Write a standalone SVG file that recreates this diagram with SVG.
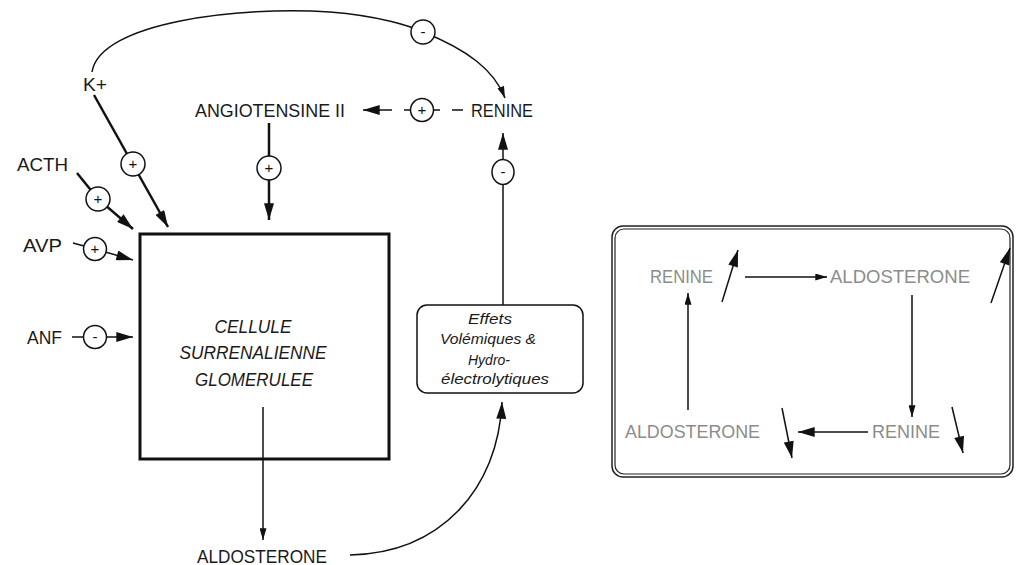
<svg xmlns="http://www.w3.org/2000/svg" width="1017" height="565" viewBox="0 0 1017 565">
<style>
.lbl{font-family:"Liberation Sans",Arial,sans-serif;font-size:19px;fill:#1a1a1a}
.it{font-family:"Liberation Sans",Arial,sans-serif;font-style:italic;font-size:18px;fill:#1a1a1a;text-anchor:middle}
.sm{font-family:"Liberation Sans",Arial,sans-serif;font-style:italic;font-size:15px;fill:#1a1a1a;text-anchor:middle}
.gr{font-family:"Liberation Sans",Arial,sans-serif;font-size:18px;fill:#8c8c8c}
.ln{fill:none;stroke:#111;stroke-width:1.5}
.thk{fill:none;stroke:#111;stroke-width:2.5}
.sg{fill:#fff;stroke:#111;stroke-width:1.5}
.st{font-family:"Liberation Sans",Arial,sans-serif;font-size:15px;fill:#111;text-anchor:middle}
</style>
<defs>
<marker id="ah" viewBox="0 0 10 6" refX="10" refY="3" markerWidth="12" markerHeight="7" markerUnits="userSpaceOnUse" orient="auto"><path d="M0,0 L10,3 L0,6 z" fill="#111"/></marker>
<marker id="ahL" viewBox="0 0 10 6" refX="10" refY="3" markerWidth="18" markerHeight="10" markerUnits="userSpaceOnUse" orient="auto"><path d="M0,0 L10,3 L0,6 z" fill="#111"/></marker>
</defs>
<rect width="1017" height="565" fill="#fff"/>

<g id="connectors">
<path class="ln" d="M92,72 C100,22 240,6 330,12 C380,16 410,26 423,32 C468,50 494,70 505,98" marker-end="url(#ah)"/>
<path class="thk" d="M94,95 L168,227" marker-end="url(#ahL)"/>
<path class="thk" d="M77,173 L98,199 L133,229" marker-end="url(#ahL)"/>
<path class="ln" d="M73,243 L95,249 L133,260" marker-end="url(#ahL)"/>
<path class="ln" d="M72,337 L133,337" marker-end="url(#ahL)"/>
<path class="thk" d="M269,123 L269,220" marker-end="url(#ahL)"/>
<path class="ln" d="M392,110 L363,110" marker-end="url(#ahL)"/>
<path class="ln" d="M404,110 L440,110 M452,110 L463,110"/>
<path class="ln" d="M503,305 L503,133" marker-end="url(#ahL)"/>
<path class="ln" d="M263,407 L263,540" marker-end="url(#ah)"/>
<path class="ln" d="M350,555 C440,553 498,490 502,402" marker-end="url(#ahL)"/>
<g id="signs">
<circle class="sg" cx="423" cy="32" r="12"/><text class="st" x="423" y="37">-</text>
<circle class="sg" cx="133" cy="164" r="12"/><text class="st" x="133" y="169">+</text>
<circle class="sg" cx="98" cy="199" r="12"/><text class="st" x="98" y="204">+</text>
<circle class="sg" cx="95" cy="249" r="11.5"/><text class="st" x="95" y="254">+</text>
<circle class="sg" cx="95" cy="337" r="11.5"/><text class="st" x="95" y="342">-</text>
<circle class="sg" cx="269" cy="168" r="12"/><text class="st" x="269" y="173">+</text>
<circle class="sg" cx="422" cy="110" r="11.5"/><text class="st" x="422" y="115">+</text>
<ellipse class="sg" cx="503" cy="172" rx="11" ry="12.5"/><text class="st" x="503" y="177">-</text>
</g>
</g>

<g id="kplus"><text class="lbl" x="83" y="91" font-size="16" textLength="24" lengthAdjust="spacingAndGlyphs">K+</text></g>
<g id="acth"><text class="lbl" x="17" y="171" textLength="51" lengthAdjust="spacingAndGlyphs">ACTH</text></g>
<g id="avp"><text class="lbl" x="23" y="252" textLength="39" lengthAdjust="spacingAndGlyphs">AVP</text></g>
<g id="anf"><text class="lbl" x="27" y="344" textLength="35" lengthAdjust="spacingAndGlyphs">ANF</text></g>
<g id="angiotensine"><text class="lbl" x="195" y="117" textLength="150" lengthAdjust="spacingAndGlyphs">ANGIOTENSINE II</text></g>
<g id="renine"><text class="lbl" x="471" y="117" textLength="62" lengthAdjust="spacingAndGlyphs">RENINE</text></g>
<g id="aldosterone"><text class="lbl" x="197" y="563" textLength="130" lengthAdjust="spacingAndGlyphs">ALDOSTERONE</text></g>

<g id="cellule">
<rect x="140" y="234" width="249" height="225" fill="none" stroke="#111" stroke-width="3"/>
<text class="it" x="253" y="333" textLength="77" lengthAdjust="spacingAndGlyphs">CELLULE</text>
<text class="it" x="253" y="359" textLength="147" lengthAdjust="spacingAndGlyphs">SURRENALIENNE</text>
<text class="it" x="254" y="386" textLength="118" lengthAdjust="spacingAndGlyphs">GLOMERULEE</text>
</g>

<g id="effets">
<rect x="417" y="305" width="166" height="88" rx="10" fill="#fff" stroke="#111" stroke-width="1.5"/>
<text class="sm" x="490" y="324" textLength="44" lengthAdjust="spacingAndGlyphs">Effets</text>
<text class="sm" x="488" y="344" textLength="96" lengthAdjust="spacingAndGlyphs">Volémiques &amp;</text>
<text class="sm" x="489" y="365" textLength="42" lengthAdjust="spacingAndGlyphs">Hydro-</text>
<text class="sm" x="495" y="384" textLength="108" lengthAdjust="spacingAndGlyphs">électrolytiques</text>
</g>

<g id="cycle">
<rect x="612" y="226" width="401" height="251" rx="11" fill="none" stroke="#222" stroke-width="1.5"/>
<rect x="615" y="229" width="395" height="245" rx="9" fill="none" stroke="#222" stroke-width="1.2"/>
<text class="gr" x="650" y="283" textLength="63" lengthAdjust="spacingAndGlyphs">RENINE</text>
<text class="gr" x="830" y="283" textLength="140" lengthAdjust="spacingAndGlyphs">ALDOSTERONE</text>
<text class="gr" x="872" y="438" textLength="68" lengthAdjust="spacingAndGlyphs">RENINE</text>
<text class="gr" x="625" y="438" textLength="135" lengthAdjust="spacingAndGlyphs">ALDOSTERONE</text>
<path class="ln" d="M722,302 L738,250" marker-end="url(#ahL)"/>
<path class="ln" d="M745,277 L827,277" marker-end="url(#ah)"/>
<path class="ln" d="M991,303 L1010,248" marker-end="url(#ahL)"/>
<path class="ln" d="M912,295 L912,417" marker-end="url(#ah)"/>
<path class="ln" d="M868,432 L798,432" marker-end="url(#ahL)"/>
<path class="ln" d="M952,407 L963,453" marker-end="url(#ahL)"/>
<path class="ln" d="M782,408 L792,458" marker-end="url(#ahL)"/>
<path class="ln" d="M688,410 L688,293" marker-end="url(#ah)"/>
</g>
</svg>
